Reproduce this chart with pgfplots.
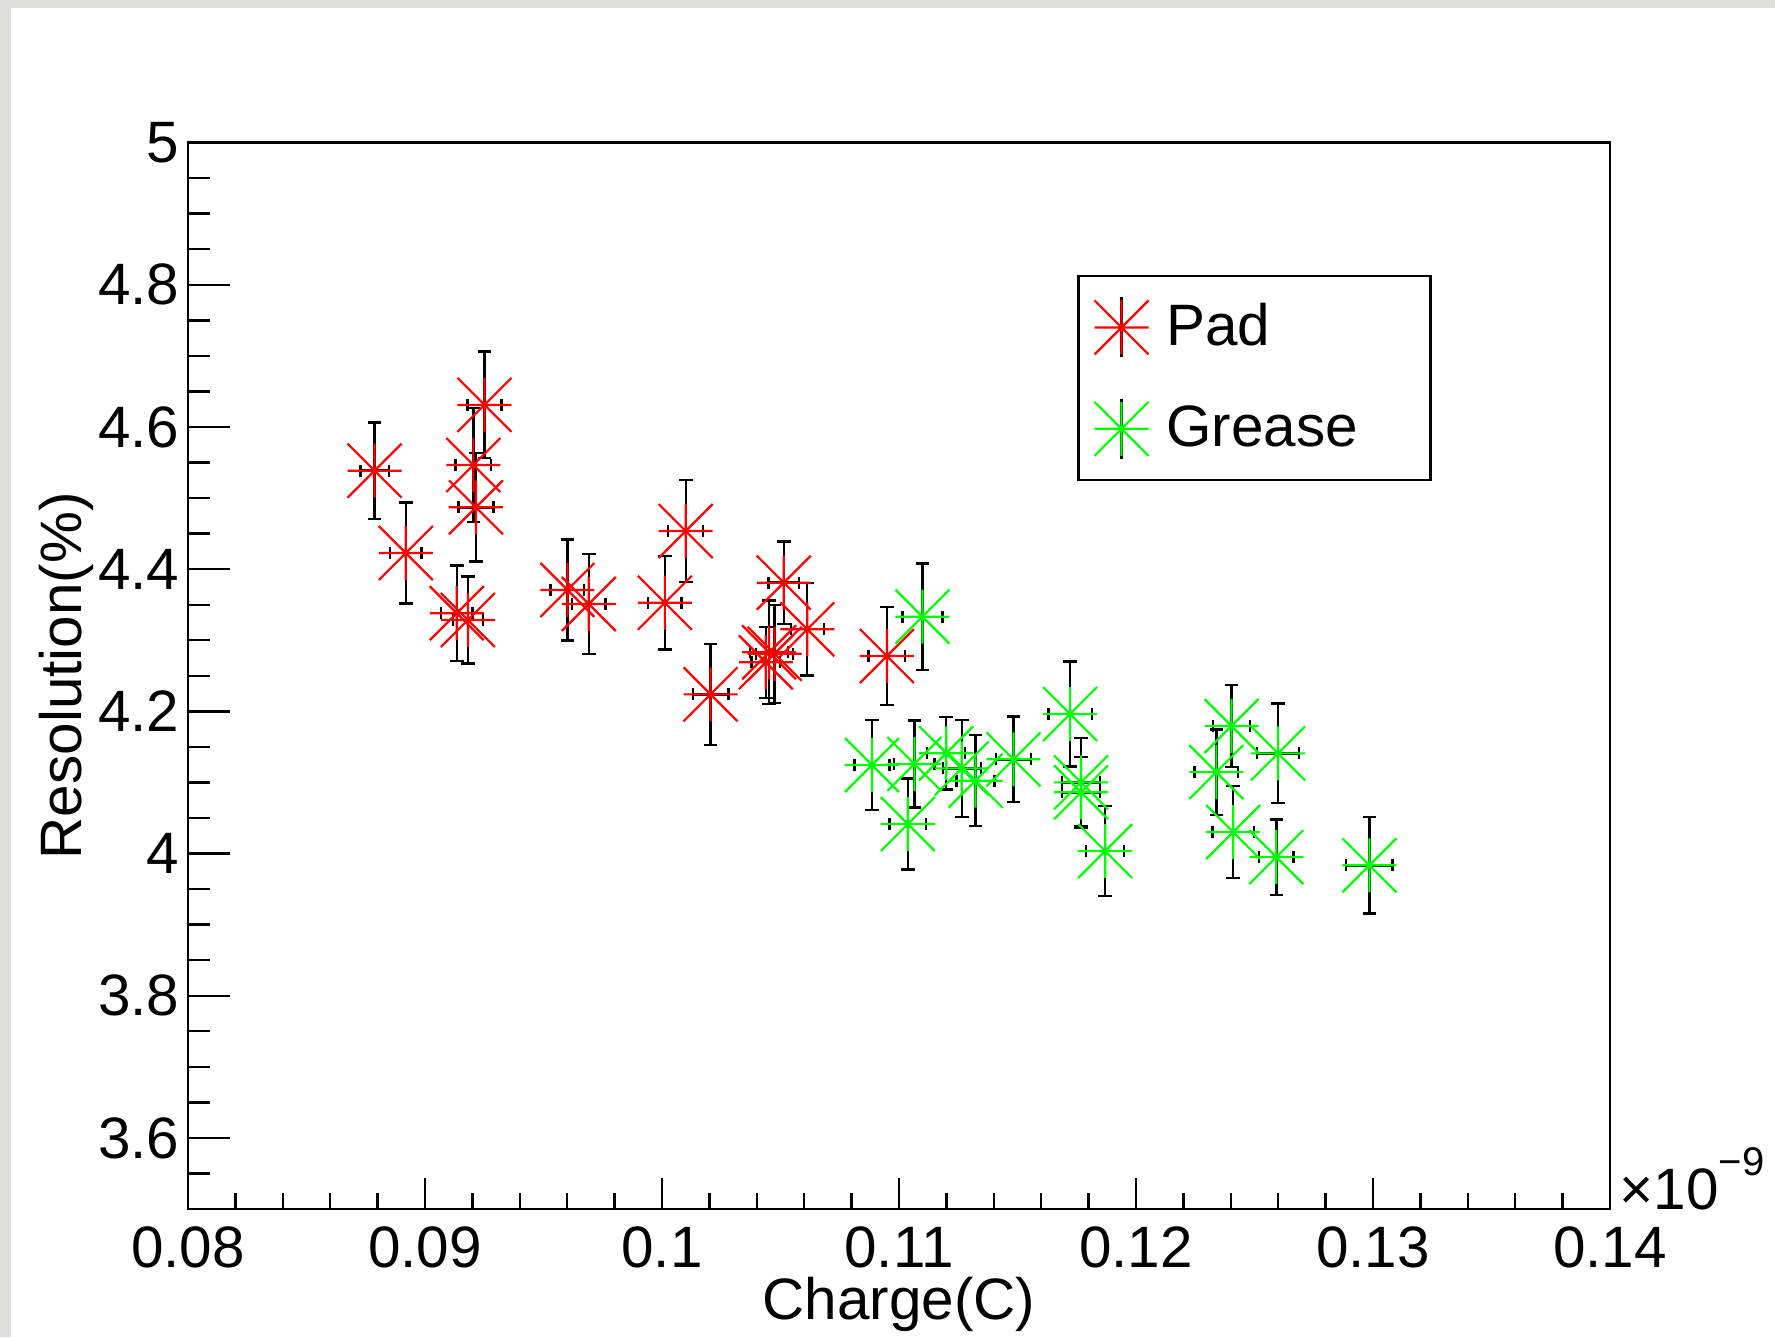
\documentclass[border=0pt]{standalone}
\usepackage{fontspec}
\setmainfont{Liberation Sans}
\usepackage{pgfplots}
\pgfplotsset{compat=1.18}
\usepackage{pgfplotstable}
\definecolor{bggray}{RGB}{222,222,218}
\definecolor{rootred}{RGB}{255,0,0}
\definecolor{rootgreen}{RGB}{0,255,0}
\pgfdeclareplotmark{rootstar}{%
  \pgfpathmoveto{\pgfqpoint{-\pgfplotmarksize}{0pt}}\pgfpathlineto{\pgfqpoint{\pgfplotmarksize}{0pt}}%
  \pgfpathmoveto{\pgfqpoint{0pt}{-\pgfplotmarksize}}\pgfpathlineto{\pgfqpoint{0pt}{\pgfplotmarksize}}%
  \pgfpathmoveto{\pgfqpoint{-\pgfplotmarksize}{-\pgfplotmarksize}}\pgfpathlineto{\pgfqpoint{\pgfplotmarksize}{\pgfplotmarksize}}%
  \pgfpathmoveto{\pgfqpoint{-\pgfplotmarksize}{\pgfplotmarksize}}\pgfpathlineto{\pgfqpoint{\pgfplotmarksize}{-\pgfplotmarksize}}%
  \pgfusepathqstroke}

\pgfplotstableread{
x y ex ey
0.08787 4.5385 0.00060 0.068
0.08919 4.4227 0.00067 0.071
0.09251 4.6310 0.00072 0.075
0.09204 4.5465 0.00075 0.080
0.09215 4.4870 0.00074 0.076
0.09134 4.3380 0.00067 0.067
0.09181 4.3285 0.00064 0.061
0.09601 4.3707 0.00071 0.071
0.09691 4.3510 0.00070 0.070
0.10012 4.3528 0.00070 0.066
0.10100 4.4536 0.00074 0.072
0.10205 4.2239 0.00075 0.071
0.10438 4.2690 0.00060 0.050
0.10452 4.2830 0.00080 0.073
0.10475 4.2810 0.00078 0.069
0.10514 4.3810 0.00065 0.058
0.10613 4.3154 0.00070 0.065
0.10949 4.2778 0.00077 0.069
}\padtable

\pgfplotstableread{
x y ex ey
0.11099 4.3331 0.00084 0.075
0.10886 4.1245 0.00074 0.063
0.11065 4.1259 0.00085 0.061
0.11037 4.0415 0.00077 0.064
0.11199 4.1410 0.00080 0.051
0.11265 4.1198 0.00080 0.068
0.11323 4.1024 0.00080 0.064
0.11483 4.1325 0.00075 0.060
0.11722 4.1962 0.00092 0.074
0.11768 4.1001 0.00080 0.062
0.11768 4.0861 0.00080 0.050
0.11870 4.0035 0.00080 0.063
0.12403 4.1794 0.00079 0.058
0.12599 4.1409 0.00089 0.070
0.12339 4.1146 0.00092 0.060
0.12410 4.0302 0.00087 0.065
0.12592 3.9950 0.00072 0.053
0.12985 3.9834 0.00098 0.068
}\greasetable

\newcommand{\bigfont}{\fontsize{14.6}{17.5}\selectfont}

\begin{document}
\begin{tikzpicture}[font=\bigfont]
\path[use as bounding box] (0,0) rectangle (443.75pt,334.25pt);
\fill[bggray] (0,0) rectangle (443.75pt,334.25pt);
\fill[white] (2.75pt,0) rectangle (443.75pt,332.2pt);
\begin{axis}[
  at={(47pt,32pt)}, anchor=south west,
  scale only axis, width=355.5pt, height=266.6pt,
  xmin=0.08, xmax=0.14, ymin=3.5, ymax=5,
  xtick={0.08,0.09,0.1,0.11,0.12,0.13,0.14},
  minor xtick={0.082,0.084,0.086,0.088,0.092,0.094,0.096,0.098,0.102,0.104,0.106,0.108,0.112,0.114,0.116,0.118,0.122,0.124,0.126,0.128,0.132,0.134,0.136,0.138},
  ytick={3.6,3.8,4,4.2,4.4,4.6,4.8,5},
  minor ytick={3.55,3.65,3.7,3.75,3.85,3.9,3.95,4.05,4.1,4.15,4.25,4.3,4.35,4.45,4.5,4.55,4.65,4.7,4.75,4.85,4.9,4.95},
  scaled x ticks=false, scaled y ticks=false,
  xtick pos=bottom, ytick pos=left,
  tick align=inside,
  xtick style={/pgfplots/major tick length=7.75pt,/pgfplots/minor tick length=4pt},
  ytick style={/pgfplots/major tick length=10.5pt,/pgfplots/minor tick length=5.4pt},
  every tick/.style={black, line width=0.6pt},
  axis line style={line width=0.6pt},
  tick label style={font=\bigfont},
  /pgf/number format/assume math mode=true,
  /pgf/number format/fixed, /pgf/number format/precision=2,
  xticklabel style={anchor=north, inner sep=0pt, yshift=-4.25pt},
  yticklabel style={anchor=east, inner sep=0pt, xshift=-2pt},
  xlabel={Charge(C)},
  xlabel style={at={(axis description cs:0.5,-0.1035)}, anchor=base, inner sep=0pt, font=\bigfont},
  ylabel={Resolution(\%)},
  ylabel style={at={(axis description cs:-0.0748,0.5)}, anchor=base, inner sep=0pt, font=\bigfont},
  legend cell align=left,
  legend style={at={(axis description cs:0.6254,0.8758)}, anchor=north west,
    draw=black, line width=0.6pt, fill=white, font=\bigfont,
    inner xsep=4pt, inner ysep=5pt, row sep=9.75pt, column sep=4.45pt,
    nodes={inner sep=0pt}},
  clip=false,
]
% Pad: markers with vertical error bars underneath
\addplot[only marks, mark=rootstar, color=rootred, mark size=6.75pt,
  mark options={line width=0.55pt, rootred},
  legend image code/.code={\draw[black,line width=0.6pt] (0pt,-7.5pt) -- (0pt,7.5pt);
    \draw[rootred,line width=0.55pt,mark=rootstar,mark size=6.75pt] plot coordinates {(0pt,0pt)};},
  error bars/.cd, y dir=both, y explicit,
  error bar style={black, line width=0.6pt},
  error mark options={black, mark size=1.7pt, line width=0.6pt, rotate=90}]
  table[x=x, y=y, y error=ey] {\padtable};
\addlegendentry{\makebox[62pt][l]{Pad}}
% Grease
\addplot[only marks, mark=rootstar, color=rootgreen, mark size=6.75pt,
  mark options={line width=0.55pt, rootgreen},
  legend image code/.code={\draw[black,line width=0.6pt] (0pt,-7.5pt) -- (0pt,7.5pt);
    \draw[rootgreen,line width=0.55pt,mark=rootstar,mark size=6.75pt] plot coordinates {(0pt,0pt)};},
  error bars/.cd, y dir=both, y explicit,
  error bar style={black, line width=0.6pt},
  error mark options={black, mark size=1.7pt, line width=0.6pt, rotate=90}]
  table[x=x, y=y, y error=ey] {\greasetable};
\addlegendentry{\makebox[62pt][l]{Grease}}
% horizontal error bars drawn on top of the markers (no marks of their own)
\addplot[forget plot, draw=none, mark=none,
  error bars/.cd, x dir=both, x explicit,
  error bar style={draw=black, line width=0.6pt},
  error mark options={draw=black, mark size=1.5pt, line width=0.6pt, rotate=90}]
  table[x=x, y=y, x error=ex] {\padtable};
\addplot[forget plot, draw=none, mark=none,
  error bars/.cd, x dir=both, x explicit,
  error bar style={draw=black, line width=0.6pt},
  error mark options={draw=black, mark size=1.5pt, line width=0.6pt, rotate=90}]
  table[x=x, y=y, x error=ex] {\greasetable};
\node[anchor=base west, inner sep=0pt, xshift=2.25pt] at (rel axis cs:1,0)
  {×10\raisebox{8.5pt}{\fontsize{10}{10}\selectfont −9}};
\end{axis}
\end{tikzpicture}
\end{document}
